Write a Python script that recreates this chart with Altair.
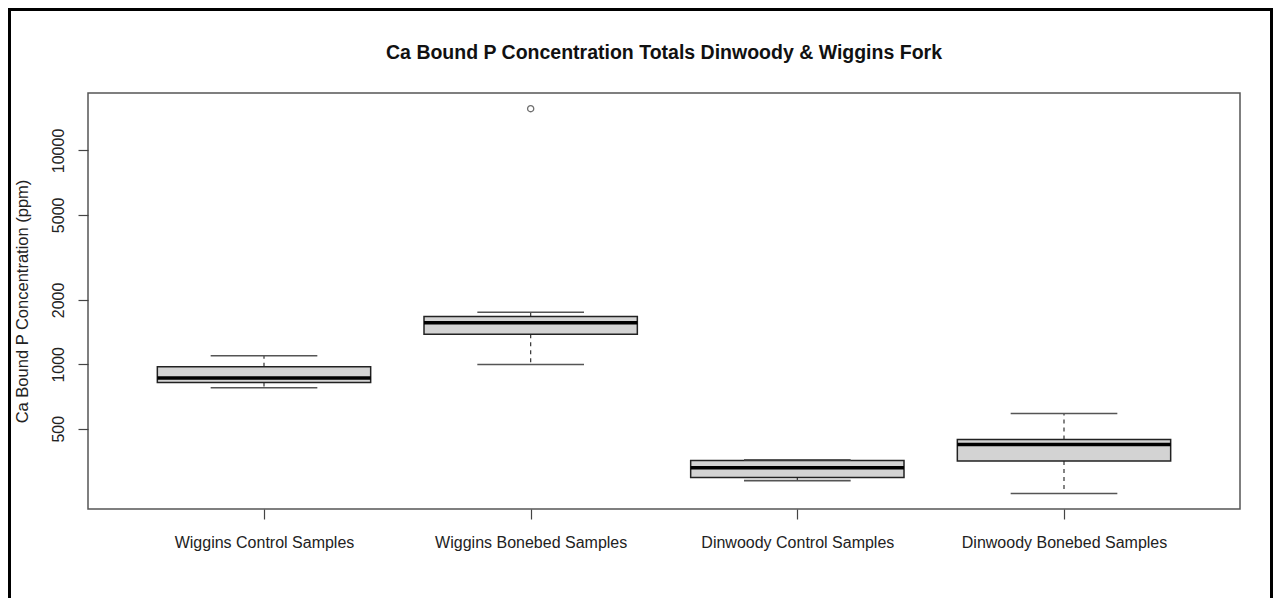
import altair as alt
import pandas as pd

title_text = ["Ca Bound P Concentration Totals Dinwoody & Wiggins Fork"]
categories = ["Wiggins Control Samples", "Wiggins Bonebed Samples",
              "Dinwoody Control Samples", "Dinwoody Bonebed Samples"]
lower_whisker = [777, 998, 286, 249]
q1 = [822, 1384, 296, 353]
median = [862, 1563, 328, 422]
q3 = [973, 1673, 355, 445]
upper_whisker = [1096, 1753, 358, 589]
outlier_group = ["Wiggins Bonebed Samples"]
outlier_value = [15680]
y_ticks = [500, 1000, 2000, 5000, 10000]

positions = list(range(1, len(categories) + 1))
df = pd.DataFrame({"cat": categories, "pos": positions, "lo": lower_whisker,
                   "q1": q1, "med": median, "q3": q3, "hi": upper_whisker})
out_df = pd.DataFrame({"cat": outlier_group, "val": outlier_value})
out_df["pos"] = [categories.index(c) + 1 for c in outlier_group]
frame_df = pd.DataFrame({"k": [0]})
title_df = pd.DataFrame({"t": title_text})

W, H = 1152, 416
PAD_L, PAD_T, PAD_R, PAD_B = 80, 85, 33, 89
FONT = "Liberation Sans"

label_expr = "[" + ",".join(f"'{c}'" for c in categories) + "][datum.value - 1]"

x_scale = alt.Scale(domain=[0.34, 4.66], nice=False, zero=False)
y_scale = alt.Scale(type="log", domain=[210.6, 18566], nice=False)

x_axis = alt.Axis(values=positions, labelExpr=label_expr, title=None, grid=False,
                  domain=False, tickSize=10, tickColor="#444", tickWidth=1.2,
                  labelFontSize=16, labelColor="#222", labelPadding=15,
                  labelFont=FONT, labelBaseline="top", labelAlign="center",
                  labelFlush=False, labelOverlap=False, labelBound=False, labelLimit=0)
y_axis = alt.Axis(values=y_ticks, format="d", title="Ca Bound P Concentration (ppm)",
                  grid=False, domain=False, tickSize=10, tickColor="#444", tickWidth=1.2,
                  labelAngle=270, labelAlign="center", labelBaseline="middle",
                  labelPadding=20, labelFontSize=16, labelColor="#222", labelFont=FONT,
                  labelFlush=False, labelOverlap=False, labelLimit=0,
                  titleFontSize=16.5, titleFontWeight="normal", titleColor="#222",
                  titleFont=FONT, titleX=-66, titleY=H / 2, titleAngle=270,
                  titleBaseline="middle", titleAlign="center", titleLimit=0)


def X(f):
    return alt.X(f, scale=x_scale, axis=x_axis)


def Y(f):
    return alt.Y(f, scale=y_scale, axis=y_axis)


base = alt.Chart(df).transform_calculate(
    left="datum.pos - 0.4", right="datum.pos + 0.4",
    cl="datum.pos - 0.2", cr="datum.pos + 0.2")

whisk_up = base.mark_rule(color="#333", strokeWidth=1.2, strokeDash=[4, 4]).encode(
    x=X("pos:Q"), y=Y("q3:Q"), y2="hi:Q")
whisk_lo = base.mark_rule(color="#333", strokeWidth=1.2, strokeDash=[4, 4]).encode(
    x=X("pos:Q"), y=Y("q1:Q"), y2="lo:Q")
box = base.mark_rect(fill="#d3d3d3", stroke="#222", strokeWidth=1.5).encode(
    x=X("left:Q"), x2="right:Q", y=Y("q1:Q"), y2="q3:Q")
med = base.mark_rule(color="black", strokeWidth=3.5).encode(
    x=X("left:Q"), x2="right:Q", y=Y("med:Q"))
cap_hi = base.mark_rule(color="#555", strokeWidth=1.6).encode(
    x=X("cl:Q"), x2="cr:Q", y=Y("hi:Q"))
cap_lo = base.mark_rule(color="#555", strokeWidth=1.6).encode(
    x=X("cl:Q"), x2="cr:Q", y=Y("lo:Q"))
outl = alt.Chart(out_df).mark_point(shape="circle", filled=False, size=38,
                                     color="#333", strokeWidth=1.3).encode(
    x=X("pos:Q"), y=Y("val:Q"))

title = alt.Chart(title_df).mark_text(
    font=FONT, fontSize=19.5, fontWeight="bold", color="#111",
    align="center", baseline="alphabetic").encode(
    text="t:N", x=alt.value(W / 2), y=alt.value(-34.5))

fr = alt.Chart(frame_df)
left_border = fr.mark_rule(color="black", strokeWidth=3).encode(
    x=alt.value(-78.5), y=alt.value(-83.5), y2=alt.value(H + PAD_B))
top_border = fr.mark_rule(color="black", strokeWidth=3).encode(
    x=alt.value(-80), x2=alt.value(W + PAD_R), y=alt.value(-83.5))
right_border = fr.mark_rule(color="black", strokeWidth=3).encode(
    x=alt.value(W + PAD_R - 1.5), y=alt.value(-83.5), y2=alt.value(H + PAD_B))

chart = alt.layer(whisk_up, whisk_lo, box, med, cap_hi, cap_lo, outl, title,
                  left_border, top_border, right_border).properties(
    width=W, height=H,
    padding={"left": PAD_L, "top": PAD_T, "right": PAD_R, "bottom": PAD_B},
    autosize=alt.AutoSizeParams(type="none"),
    background="white",
).configure_view(stroke="#555", strokeWidth=1.5)

chart.save("out.html", embed_options={"renderer": "svg", "actions": False})
